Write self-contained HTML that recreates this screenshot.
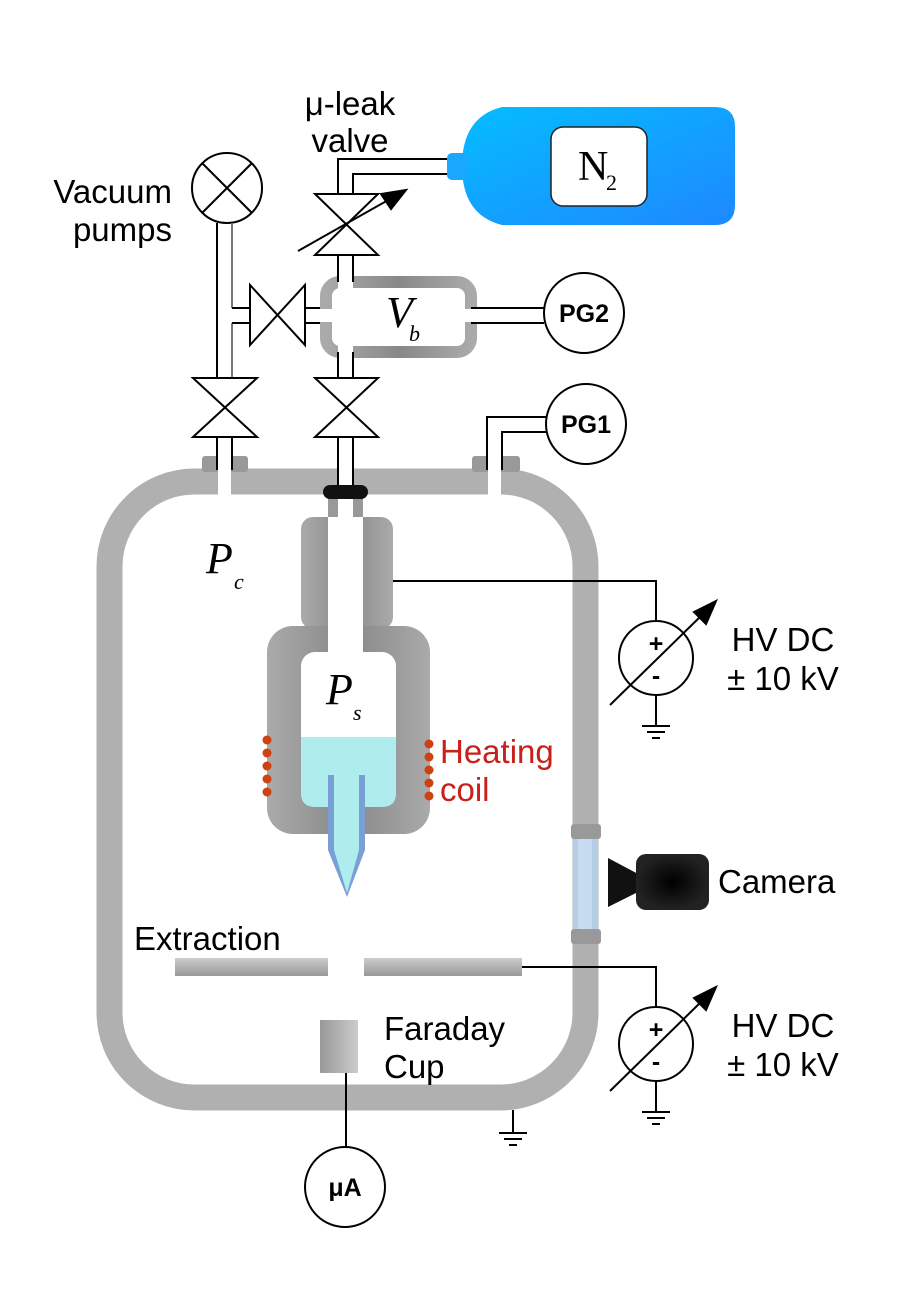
<!DOCTYPE html>
<html><head><meta charset="utf-8"><style>
html,body{margin:0;padding:0;background:#fff}
svg{display:block}
text{font-family:"Liberation Sans",sans-serif}
text.s{font-family:"Liberation Serif",serif;font-style:italic}
text.r{font-family:"Liberation Serif",serif}
</style></head><body>
<svg width="919" height="1300" viewBox="0 0 919 1300" xmlns="http://www.w3.org/2000/svg">
<defs>
<linearGradient id="bot" x1="0" y1="0" x2="1" y2="1"><stop offset="0" stop-color="#05bcff"/><stop offset="1" stop-color="#1e88ff"/></linearGradient>
<linearGradient id="gh" x1="0" y1="0" x2="1" y2="0"><stop offset="0" stop-color="#aaa"/><stop offset="0.5" stop-color="#888"/><stop offset="1" stop-color="#aaa"/></linearGradient>
<linearGradient id="gv" x1="0" y1="0" x2="0" y2="1"><stop offset="0" stop-color="#ccc"/><stop offset="1" stop-color="#999"/></linearGradient>
<linearGradient id="fc" x1="0" y1="0" x2="1" y2="0"><stop offset="0" stop-color="#999"/><stop offset="1" stop-color="#ccc"/></linearGradient>
<radialGradient id="cam"><stop offset="0" stop-color="#000"/><stop offset="1" stop-color="#222"/></radialGradient>
</defs>
<g stroke="#000" stroke-width="2" fill="none">
<rect x="109.5" y="481.5" width="476" height="616" rx="85" stroke="#b0b0b0" stroke-width="26"/>
<rect x="202" y="456" width="46" height="16" rx="3" fill="#999" stroke="none"/>
<rect x="472" y="456" width="48" height="16" rx="3" fill="#999" stroke="none"/>
<rect x="218" y="455" width="13" height="42" fill="#fff" stroke="none"/>
<rect x="488" y="455" width="13" height="42" fill="#fff" stroke="none"/>
<rect x="337" y="455" width="17" height="42" fill="#fff" stroke="none"/>
<rect x="573" y="836" width="25" height="95" fill="#b5cde6" stroke="none"/>
<rect x="578" y="836" width="14" height="95" fill="#c8daee" stroke="none"/>
<rect x="571" y="824" width="30" height="15" rx="3" fill="#999" stroke="none"/>
<rect x="571" y="929" width="30" height="15" rx="3" fill="#999" stroke="none"/>
<circle cx="227" cy="188" r="35"/>
<line x1="202" y1="163" x2="252" y2="213"/><line x1="252" y1="163" x2="202" y2="213"/>
<line x1="217" y1="223" x2="217" y2="378"/>
<line x1="232" y1="223" x2="232" y2="308" stroke="#777"/>
<line x1="232" y1="323" x2="232" y2="378" stroke="#777"/>
<path d="M232 308H250M232 323H250"/>
<path d="M193 378H257L193 437H257Z" fill="#fff"/>
<path d="M217 437V470M232 437V470"/>
<path d="M250 285V345L305 285V345Z" fill="#fff"/>
<path d="M305 308H322M305 323H322"/>
<rect x="326" y="282" width="145" height="70" rx="14" stroke="url(#gh)" stroke-width="12"/>
<rect x="338" y="274" width="15" height="20" fill="#fff" stroke="none"/>
<rect x="338" y="340" width="15" height="20" fill="#fff" stroke="none"/>
<rect x="316" y="309" width="16" height="13" fill="#fff" stroke="none"/>
<rect x="465" y="309" width="16" height="13" fill="#fff" stroke="none"/>
<path d="M471 308H544M471 323H544"/>
<circle cx="584" cy="313" r="40" fill="#fff"/>
<path d="M338 255V282M353 255V282M338 352V378M353 352V378"/>
<path d="M338 194V159H448M353 194V174H448"/>
<path d="M315 194H378L315 255H378Z" fill="#fff"/>
<line x1="298" y1="251" x2="390" y2="199"/>
<path d="M406 190L381 194L391 209Z" fill="#000"/>
<path d="M315 378H378L315 437H378Z" fill="#fff"/>
<path d="M338 437V488M353 437V488"/>
<path d="M546 417H487V470M546 432H502V470"/>
<circle cx="586" cy="424" r="40" fill="#fff"/>
</g>
<path d="M502 107H715Q735 107 735 127V205Q735 225 715 225H502Q462 215 462 166Q462 117 502 107Z" fill="url(#bot)"/>
<rect x="447" y="153" width="21" height="27" rx="5" fill="#1aa8ff"/>
<rect x="551" y="127" width="96" height="79" rx="12" fill="#fff" stroke="#222" stroke-width="1.5"/>
<text class="r" x="578" y="180" font-size="42">N</text>
<text class="r" x="606" y="190" font-size="22">2</text>
<rect x="328" y="495" width="10" height="25" fill="#999"/>
<rect x="353" y="495" width="10" height="25" fill="#999"/>
<rect x="323" y="485" width="45" height="14" rx="7" fill="#111"/>
<rect x="301" y="517" width="92" height="112" rx="12" fill="url(#gh)"/>
<rect x="267" y="626" width="163" height="208" rx="26" fill="url(#gh)"/>
<rect x="328" y="517" width="35" height="140" fill="#fff"/>
<rect x="301" y="652" width="95" height="155" rx="14" fill="#fff"/>
<path d="M301 737H396V793Q396 807 382 807H315Q301 807 301 793Z" fill="#aeecee"/>
<path d="M328 775H365V850L347 897L328 850Z" fill="#78a0d4"/>
<path d="M334 775H359V850L347 893L334 850Z" fill="#aeecee"/>
<g fill="#d04010">
<circle cx="267" cy="740" r="4.5"/><circle cx="267" cy="753" r="4.5"/><circle cx="267" cy="766" r="4.5"/><circle cx="267" cy="779" r="4.5"/><circle cx="267" cy="792" r="4.5"/>
<circle cx="429" cy="744" r="4.5"/><circle cx="429" cy="757" r="4.5"/><circle cx="429" cy="770" r="4.5"/><circle cx="429" cy="783" r="4.5"/><circle cx="429" cy="796" r="4.5"/>
</g>
<rect x="175" y="958" width="153" height="18" fill="url(#gv)"/>
<rect x="364" y="958" width="158" height="18" fill="url(#gv)"/>
<rect x="320" y="1020" width="38" height="53" fill="url(#fc)"/>
<path d="M608 858L642 876V890L608 907Z" fill="#111"/>
<rect x="636" y="854" width="73" height="56" rx="10" fill="url(#cam)"/>
<g stroke="#000" stroke-width="2" fill="none">
<path d="M393 581H656V621"/>
<circle cx="656" cy="658" r="37" fill="#fff"/>
<path d="M656 695V726M642 726H670M647 732H665M652 738H660"/>
<line x1="610" y1="705" x2="702" y2="615"/>
<path d="M716 601L694 612L706 624Z" fill="#000"/>
<path d="M522 967H656V1007"/>
<circle cx="656" cy="1044" r="37" fill="#fff"/>
<path d="M656 1081V1112M642 1112H670M647 1118H665M652 1124H660"/>
<line x1="610" y1="1091" x2="702" y2="1001"/>
<path d="M716 987L694 998L706 1010Z" fill="#000"/>
<path d="M513 1110V1133M499 1133H527M504 1139H522M509 1145H517"/>
<path d="M346 1073V1147"/>
<circle cx="345" cy="1187" r="40" fill="#fff"/>
</g>
<g font-size="33" fill="#000">
<text x="350" y="115" text-anchor="middle">μ-leak</text>
<text x="350" y="152" text-anchor="middle">valve</text>
<text x="172" y="203" text-anchor="end">Vacuum</text>
<text x="172" y="241" text-anchor="end">pumps</text>
<text x="783" y="651" text-anchor="middle">HV DC</text>
<text x="783" y="690" text-anchor="middle">± 10 kV</text>
<text x="783" y="1037" text-anchor="middle">HV DC</text>
<text x="783" y="1076" text-anchor="middle">± 10 kV</text>
<text x="718" y="893">Camera</text>
<text x="134" y="950">Extraction</text>
<text x="384" y="1040">Faraday</text>
<text x="384" y="1078">Cup</text>
<text x="440" y="763" fill="#c8201a">Heating</text>
<text x="440" y="801" fill="#c8201a">coil</text>
</g>
<g font-size="25" font-weight="bold" text-anchor="middle">
<text x="584" y="322">PG2</text>
<text x="586" y="433">PG1</text>
<text x="345" y="1196">μA</text>
<text x="656" y="652">+</text><text x="656" y="684">-</text>
<text x="656" y="1038">+</text><text x="656" y="1070">-</text>
</g>
<text class="s" x="386" y="327" font-size="44">V</text>
<text class="s" x="409" y="341" font-size="22">b</text>
<text class="s" x="206" y="573" font-size="44">P</text>
<text class="s" x="234" y="589" font-size="22">c</text>
<text class="s" x="326" y="704" font-size="44">P</text>
<text class="s" x="353" y="720" font-size="22">s</text>
</svg>
</body></html>
